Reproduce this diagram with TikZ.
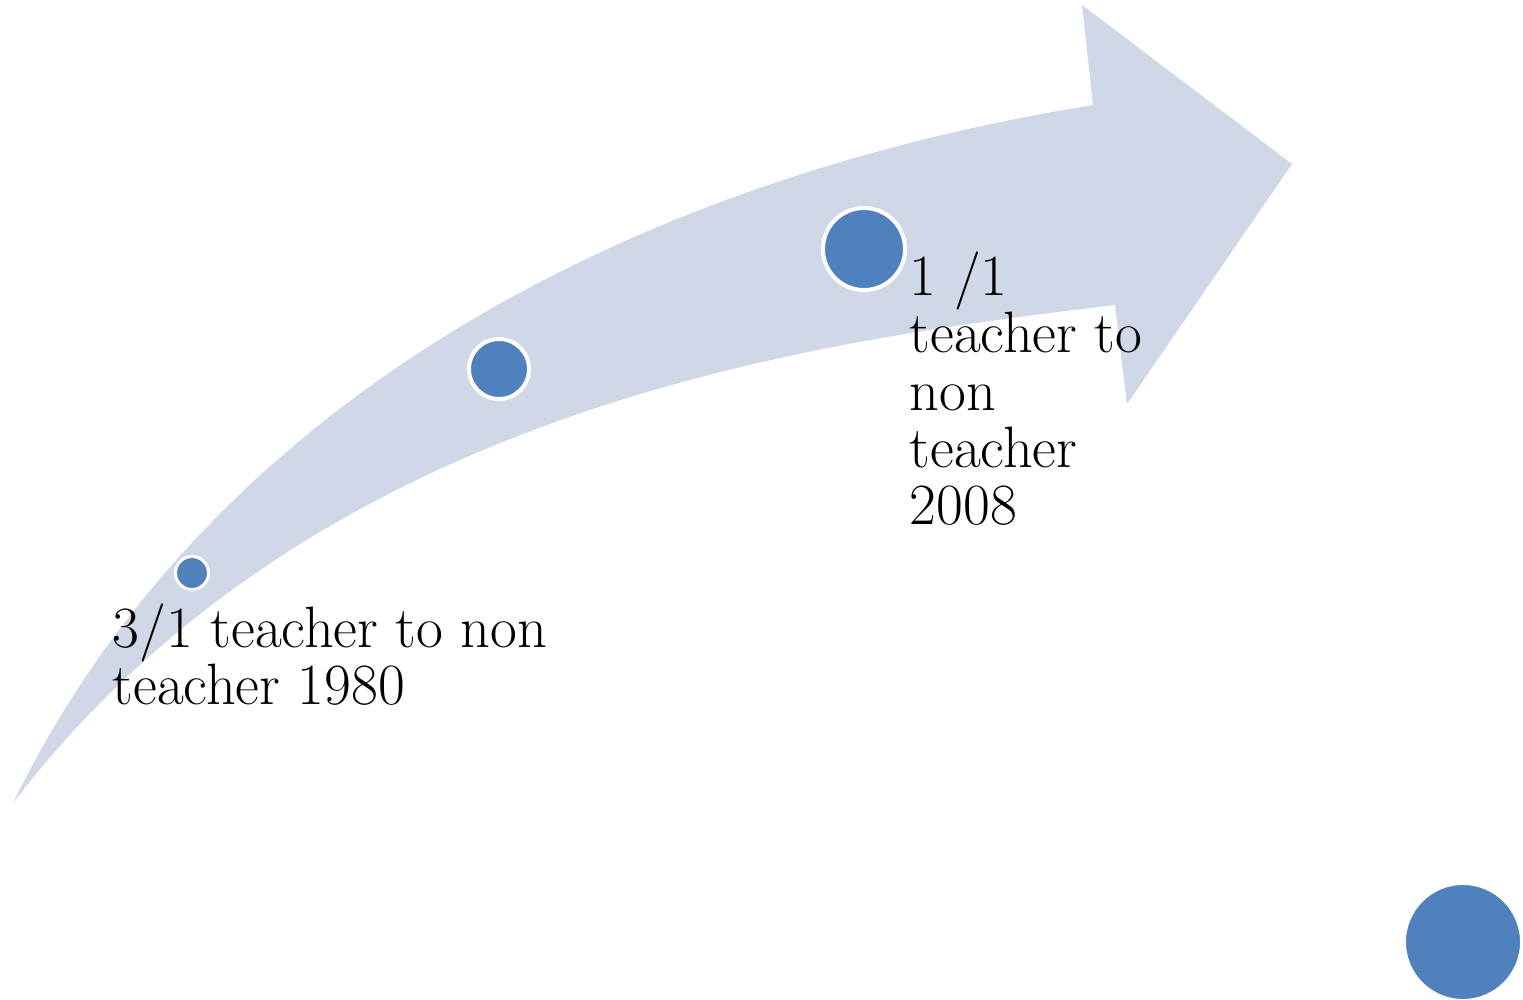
\documentclass[tikz,border=0pt]{standalone}
\usepackage{xcolor}
\usepackage{tikz}
\usetikzlibrary{positioning}
\definecolor{bandfill}{RGB}{208,216,232}
\definecolor{dotfill}{RGB}{79,129,189}
\tikzset{
    band/.style={
        fill=bandfill,
        draw=none
    },
    dot/.style={
        circle,
        fill=dotfill,
        draw=white,
        line width=0.04cm,
        inner sep=0pt
    },
    caption/.style={
        align=left,
        inner sep=0pt,
        anchor=north west,
        font=\fontsize{16.6}{16.3}\selectfont
    }
}
\begin{document}
\begin{tikzpicture}[x=0.01cm, y=-0.01cm]

\useasboundingbox (0,0) rectangle (1523,1000);

% Curved arrow
\fill[band] (13,803) .. controls (210,400) and (630,180) .. (1093,105)
    -- (1082,5) -- (1292,164) -- (1127,404) -- (1115,305)
    .. controls (815,341) and (318,405) .. (13,803) -- cycle;

% Milestones
\node[dot, minimum size=0.33cm, line width=0.03cm] (dot1) at (192,573) {};
\node[dot, minimum size=0.60cm] (dot2) at (499,369) {};
\node[dot, minimum size=0.82cm] (dot3) at (864,249) {};
\node[dot, minimum size=1.18cm] (dot4) at (1463,942) {};

% Labels
\node[caption] (start) at (112,603) {3/1 teacher to non\\teacher 1980};
\node[caption] (now) at (909,251) {1 /1\\teacher to\\non\\teacher\\2008};

\end{tikzpicture}
\end{document}
